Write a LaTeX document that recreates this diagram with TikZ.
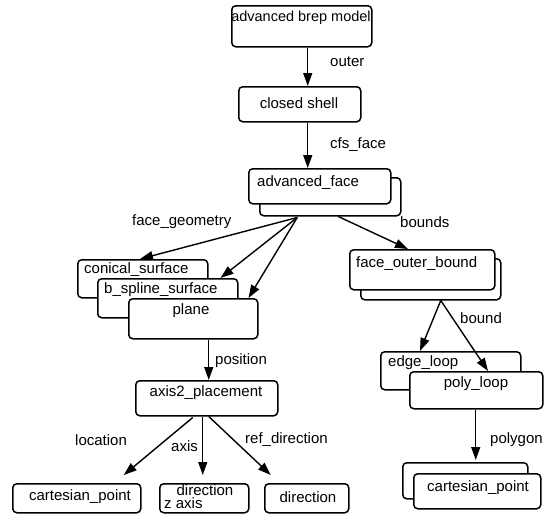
\documentclass[tikz,border=0pt]{standalone}
\usepackage{fontspec}
\setmainfont{Liberation Sans}
\usetikzlibrary{arrows.meta,calc}
\begin{document}
\begin{tikzpicture}[x=1pt,y=-1pt,
  box/.style={draw,rounded corners=4pt,line width=1.5pt,fill=white,inner sep=0pt,anchor=north west},
  txt/.style={inner sep=0pt,font=\fontsize{15}{17}\selectfont},
  lbl/.style={inner sep=0pt,anchor=west,font=\fontsize{15}{17}\selectfont},
  arr/.style={line width=1.4pt,-{Triangle[length=13pt,width=9pt]}}]
\useasboundingbox (0,0) rectangle (557,522);
% top column
\node[box,minimum width=140pt,minimum height=41pt] (brep) at (231,5) {};
\node[txt,font=\fontsize{14.5}{17}\selectfont] (tbrep) at (301,18) {advanced brep model};
\node[box,minimum width=122pt,minimum height=35pt] (shell) at (238,86) {};
\node[txt] (tshell) at (299,103) {closed shell};
\node[box,minimum width=141pt,minimum height=38pt] (afb) at (259,177) {};
\node[box,minimum width=142pt,minimum height=35pt] (af) at (248,168) {};
\node[txt,anchor=west] (taf) at (257,183) {advanced\_face};
% left stack
\node[box,minimum width=130pt,minimum height=38pt] (con) at (77,259) {};
\node[txt,anchor=west] (tcon) at (84,270) {conical\_surface};
\node[box,minimum width=140pt,minimum height=39pt] (bs) at (97,278) {};
\node[txt,anchor=west] (tbs) at (104,290) {b\_spline\_surface};
\node[box,minimum width=129pt,minimum height=40pt] (pl) at (128,298) {};
\node[txt] (tpl) at (191,311) {plane};
\node[box,minimum width=142pt,minimum height=35pt] (ax) at (135,380) {};
\node[txt] (tax) at (206,393) {axis2\_placement};
\node[box,minimum width=128pt,minimum height=29pt] (cpl) at (12,483) {};
\node[txt] (tcpl) at (80,497) {cartesian\_point};
\node[box,minimum width=89pt,minimum height=29pt] (dz) at (159,483) {};
\node[txt] (tdz1) at (205,490) {direction};
\node[txt,anchor=west] (tdz2) at (164,503) {z axis};
\node[box,minimum width=84pt,minimum height=29pt] (dir) at (264,483) {};
\node[txt] (tdir) at (308,497) {direction};
% right column
\node[box,minimum width=140pt,minimum height=41pt] (fobb) at (360,258) {};
\node[box,minimum width=145pt,minimum height=40pt] (fob) at (349,249) {};
\node[txt,anchor=west] (tfob) at (356,264) {face\_outer\_bound};
\node[box,minimum width=140pt,minimum height=38pt] (el) at (380,351) {};
\node[txt,anchor=west] (tel) at (388,363) {edge\_loop};
\node[box,minimum width=133pt,minimum height=37pt] (plp) at (409,371) {};
\node[txt] (tplp) at (476,384) {poly\_loop};
\node[box,minimum width=125pt,minimum height=36pt] (cprb) at (402,462) {};
\node[box,minimum width=127pt,minimum height=35pt] (cpr) at (413,473) {};
\node[txt,anchor=west] (tcpr) at (427,488) {cartesian\_point};
% connectors
\draw[arr] ($(brep.south)+(6,0)$) -- ($(shell.north)+(8,0)$);
\node[lbl] (louter) at (330,62) {outer};
\draw[arr] ($(shell.south)+(8,0)$) -- ($(af.north)+(-12,0)$);
\node[lbl] (lcfs) at (330,145) {cfs\_face};
\draw[arr] ($(afb.south)+(-33,1)$) -- ($(con.north west)+(63,0)$);
\draw[arr] ($(afb.south)+(-33,1)$) -- ($(bs.north east)+(-18,0)$);
\draw[arr] ($(afb.south)+(-33,1)$) -- ($(pl.north east)+(-10,0)$);
\node[lbl] (lfg) at (132,222) {face\_geometry};
\draw[arr] ($(afb.south)+(8,0)$) -- ($(fob.north west)+(59,0)$);
\node[lbl] (lbounds) at (400,222) {bounds};
\draw[arr] ($(fobb.south)+(10,0)$) -- ($(el.north west)+(40,0)$);
\draw[arr] ($(fobb.south)+(10,0)$) -- ($(plp.north west)+(79,0)$);
\node[lbl] (lbound) at (460,318) {bound};
\draw[arr] ($(pl.south)+(15.5,0)$) -- ($(ax.north)+(2,0)$);
\node[lbl] (lpos) at (215,361) {position};
\draw[arr] ($(ax.south)+(-14,1)$) -- ($(cpl.north)+(47,-8)$);
\node[lbl] (lloc) at (75,440) {location};
\draw[arr] ($(ax.south)+(-4,0)$) -- ($(dz.north)+(-1.5,-8)$);
\node[lbl] (laxis) at (171,446) {axis};
\draw[arr] ($(ax.south)+(2,0)$) -- ($(dir.north)+(-36,-8)$);
\node[lbl] (lref) at (245,440) {ref\_direction};
\draw[arr] ($(plp.south)+(-0.5,0)$) -- ($(cprb.north)+(10.5,-2)$);
\node[lbl] (lpoly) at (490,440) {polygon};
\end{tikzpicture}
\end{document}
